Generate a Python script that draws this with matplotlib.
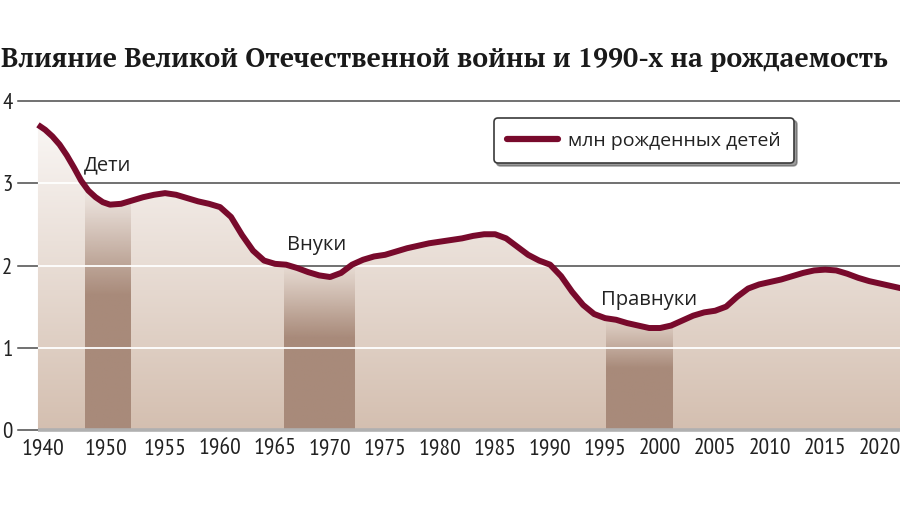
import numpy as np
import matplotlib
matplotlib.use('Agg')
import matplotlib.pyplot as plt
from matplotlib.lines import Line2D
from matplotlib.patches import Polygon
from matplotlib.transforms import ScaledTranslation
import matplotlib.colors as mcolors
from matplotlib import font_manager as fm

# ---------------- data ----------------
years = [1940, 1941, 1942, 1943, 1944, 1945, 1946, 1947, 1948, 1949,
         1950, 1951, 1952, 1953, 1954, 1955, 1956, 1957, 1958, 1959,
         1960, 1961, 1962, 1963, 1964, 1965, 1966, 1967, 1968, 1969,
         1970, 1971, 1972, 1973, 1974, 1975, 1976, 1977, 1978, 1979,
         1980, 1981, 1982, 1983, 1984, 1985, 1986, 1987, 1988, 1989,
         1990, 1991, 1992, 1993, 1994, 1995, 1996, 1997, 1998, 1999,
         2000, 2001, 2002, 2003, 2004, 2005, 2006, 2007, 2008, 2009,
         2010, 2011, 2012, 2013, 2014, 2015, 2016, 2017, 2018, 2019,
         2020, 2021, 2022]
births = [3.71, 3.65, 3.57, 3.47, 3.34, 3.19, 3.03, 2.91, 2.83, 2.77,
          2.74, 2.75, 2.79, 2.83, 2.86, 2.88, 2.86, 2.82, 2.78, 2.75,
          2.71, 2.59, 2.37, 2.18, 2.06, 2.02, 2.01, 1.97, 1.92, 1.88,
          1.86, 1.91, 2.01, 2.07, 2.11, 2.13, 2.17, 2.21, 2.24, 2.27,
          2.29, 2.31, 2.33, 2.36, 2.38, 2.38, 2.33, 2.23, 2.13, 2.06,
          2.01, 1.87, 1.68, 1.52, 1.41, 1.36, 1.34, 1.30, 1.27, 1.24,
          1.24, 1.27, 1.33, 1.39, 1.43, 1.45, 1.50, 1.62, 1.72, 1.77,
          1.80, 1.83, 1.87, 1.91, 1.94, 1.95, 1.94, 1.90, 1.85, 1.81,
          1.78, 1.75, 1.72]

tick_years = [1940, 1950, 1955, 1960, 1965, 1970, 1975, 1980, 1985,
              1990, 1995, 2000, 2005, 2010, 2015, 2020]
tick_labels = [str(y) for y in tick_years]
y_ticks = [0, 1, 2, 3, 4]
y_tick_labels = ['0', '1', '2', '3', '4']

band_starts = [1946.5, 1965.8, 1995.1]
band_ends = [1951.9, 1972.3, 2001.2]

gen_labels = ['Дети', 'Внуки', 'Правнуки']
gen_label_x = [1949.7, 1968.8, 1999.0]
gen_label_y = [3.16, 2.19, 1.52]

legend_label = 'млн рожденных детей'
title = 'Влияние Великой Отечественной войны и 1990-х на рождаемость'

# ---------------- style ----------------
W, H = 900, 507
line_color = '#780a2c'
bar_color = '#a88a7a'
grad_top = '#fcfaf9'
grad_bot = '#d4bfb0'
grid_dark = '#4a4a4a'
text_color = '#222222'

available = set(f.name for f in fm.fontManager.ttflist)


def pick(cands):
    got = [c for c in cands if c in available]
    return got + ['DejaVu Sans']


narrow = pick(['PT Sans Narrow', 'Roboto Condensed', 'Archivo Narrow',
               'Liberation Sans Narrow'])
sans = pick(['Open Sans', 'Noto Sans'])
serif = pick(['PT Serif', 'Liberation Serif', 'DejaVu Serif'])

fig = plt.figure(figsize=(W / 100, H / 100), dpi=100)
ax = fig.add_axes([18 / W, 77 / H, 882 / W, 329 / H])

K = 0.655


def fwd(x):
    x = np.asarray(x, float)
    return np.where(x < 1950, 1950 - (1950 - x) * K, x)


def inv(t):
    t = np.asarray(t, float)
    return np.where(t < 1950, 1950 - (1950 - t) / K, t)


ax.set_xscale('function', functions=(fwd, inv))
XL = (1937.23, 2021.8)
YL = (0, 4)
ax.set_xlim(*XL)
ax.set_ylim(*YL)

# area polygon (clip path)
verts = [(years[0], 0)] + list(zip(years, births)) + [(years[-1], 0)]
poly = Polygon(verts, closed=True, facecolor='none', edgecolor='none')
ax.add_patch(poly)

# dark gridlines
for v in y_ticks:
    ax.axhline(v, color=grid_dark, lw=1.1, zorder=0.5, clip_on=False)

# gradient fill
c0 = np.array(mcolors.to_rgb(grad_top))
c1 = np.array(mcolors.to_rgb(grad_bot))
t = np.linspace(0, 1, 256)[:, None, None]
grad = c0 * (1 - t) + c1 * t
im = ax.imshow(grad, extent=[0, 1, 0, 1], transform=ax.transAxes,
               aspect='auto', zorder=1, interpolation='bilinear')
im.set_clip_path(poly)

# generation bands with fading tops
bc = np.array(mcolors.to_rgb(bar_color))
for x0, x1 in zip(band_starts, band_ends):
    xs = np.linspace(x0, x1, 50)
    top = float(np.max(np.interp(xs, years, births)))
    fade = 0.45 * top
    ys = np.linspace(top, 0, 300)
    alpha = np.clip((top - ys) / fade, 0, 1) ** 1.2
    arr = np.zeros((300, 1, 4))
    arr[..., :3] = bc
    arr[:, 0, 3] = alpha
    bim = ax.imshow(arr, extent=[x0, x1, 0, top], aspect='auto',
                    zorder=2, interpolation='bilinear')
    bim.set_clip_path(poly)

# white gridlines inside area
for v in y_ticks[1:]:
    wl = ax.axhline(v, color='white', lw=1.3, zorder=3)
    wl.set_clip_path(poly)

# bottom axis line
ax.hlines(0, years[0], XL[1], color='#b0b0b0', lw=2.6, zorder=4,
          clip_on=False)

# curve
ax.plot(years, births, color=line_color, lw=4.3, zorder=5,
        solid_joinstyle='round', solid_capstyle='butt')

# generation labels
for lab, lx, ly in zip(gen_labels, gen_label_x, gen_label_y):
    ax.text(lx, ly, lab, ha='center', va='baseline', fontsize=14.5,
            family=sans, color=text_color, zorder=6)

ax.set_xlim(*XL)
ax.set_ylim(*YL)

ax.set_xticks(tick_years)
ax.set_xticklabels(tick_labels, family=narrow, fontsize=17,
                   color=text_color)
ax.set_yticks(y_ticks)
ax.set_yticklabels(y_tick_labels, family=narrow, fontsize=16.5,
                   color=text_color)
ax.tick_params(axis='both', length=0)
ax.tick_params(axis='x', pad=6)
ax.tick_params(axis='y', pad=4)
for s in ax.spines.values():
    s.set_visible(False)
ax.set_facecolor('none')

# small horizontal nudges of the first two year labels (as in reference)
xlabs = ax.get_xticklabels()
for lab, dx in zip(xlabs[:2], [5, -4]):
    lab.set_transform(lab.get_transform()
                      + ScaledTranslation(dx / 100, 0, fig.dpi_scale_trans))

# legend
h = Line2D([], [], color=line_color, lw=4.5, solid_capstyle='round')
leg = ax.legend([h], [legend_label], loc='center',
                bbox_to_anchor=(644 / W, 1 - 140.5 / H),
                bbox_transform=fig.transFigure,
                prop=dict(family=sans, size=14),
                handlelength=2.6, handletextpad=0.5, borderpad=0.7,
                frameon=True, fancybox=True,
                shadow={'color': '0.35', 'alpha': 0.6},
                framealpha=1, edgecolor='#3a3a3a', facecolor='white')
leg.get_frame().set_linewidth(1.2)
for tx in leg.get_texts():
    tx.set_color(text_color)

# title, sized to span the reference width
ttl = fig.text(1 / W, 1 - 67 / H, title, ha='left', va='baseline',
               fontsize=18, family=serif, weight='bold', color='#1a1a1a')
r = fig.canvas.get_renderer()
w = ttl.get_window_extent(r).width
ttl.set_fontsize(18 * 886 / w)

fig.savefig('out.png', dpi=100)
